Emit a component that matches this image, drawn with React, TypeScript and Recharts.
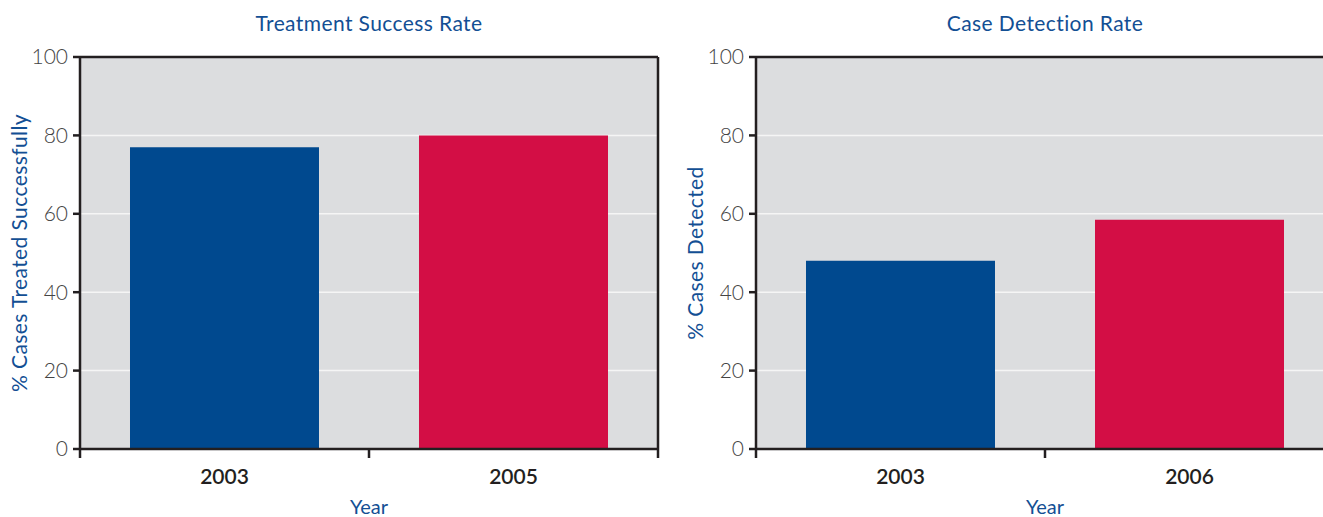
import React from "react";
import { BarChart, Bar, XAxis, YAxis, CartesianGrid, Cell, Label } from "recharts";

const successYears = ["2003", "2005"];
const successRates = [77, 80];
const detectionYears = ["2003", "2006"];
const detectionRates = [48, 58.5];
const barColors = ["#00498f", "#d30e45"];
const yTicks = [0, 20, 40, 60, 80, 100];
const bandTicks = [0, 1, 2];

const FONT = "Lato, 'Open Sans', sans-serif";
const DARK = "#231f20";
const BLUE = "#134f94";

const CHART_W = 680;
const CHART_H = 517;
const MARGIN = { top: 56, right: 21, left: 0, bottom: 0 };

function Panel({ title, yLabel, years, values, left }: {
  title: string; yLabel: string; years: string[]; values: number[]; left: number;
}) {
  const data = years.map((year, i) => ({ year, value: values[i], pos: i + 0.5 }));
  const edge = { stroke: DARK, strokeWidth: 2.5 };
  return (
    <div style={{ position: "absolute", left, top: 0, width: CHART_W, height: CHART_H }}>
      <div style={{
        position: "absolute", left: 80, top: 10, width: 578, textAlign: "center",
        fontFamily: FONT, fontSize: 21, letterSpacing: 0.4, color: BLUE,
      }}>{title}</div>
      <BarChart width={CHART_W} height={CHART_H} data={data} margin={MARGIN} barCategoryGap="17.3%">
        <CartesianGrid fill="#dcdddf" stroke="#f5f5f5" strokeWidth={1.5} vertical={false} />
        {/* band-edge ticks along the bottom */}
        <XAxis xAxisId="a" type="number" dataKey="pos" domain={[0, 2]} ticks={bandTicks} allowDataOverflow
          interval={0} height={1} tick={{ fontSize: 1, fill: "none" }} tickFormatter={() => ""}
          tickSize={9} tickLine={edge} axisLine={edge} />
        <XAxis xAxisId="b" dataKey="year" height={67} tickLine={false} axisLine={false}
          tickSize={0} tickMargin={19}
          tick={{ fontFamily: FONT, fontSize: 21, fontWeight: 600, fill: DARK }}>
          <Label value="Year" position="insideBottom" offset={3}
            style={{ fontFamily: FONT, fontSize: 20, fill: BLUE }} />
        </XAxis>
        <XAxis xAxisId="c" dataKey="year" orientation="top" height={1} tick={false} tickLine={false}
          axisLine={edge} />
        <YAxis domain={[0, 100]} ticks={yTicks} width={80} tickSize={7} tickMargin={5}
          interval={0} tickLine={edge} axisLine={edge}
          tick={{ fontFamily: FONT, fontSize: 21, fontWeight: 300, fill: "#444" }}>
          <Label value={yLabel} angle={-90} position="insideLeft" offset={20}
            style={{ textAnchor: "middle", fontFamily: FONT, fontSize: 21, letterSpacing: 0.4, fill: BLUE }} />
        </YAxis>
        <YAxis yAxisId="r" orientation="right" domain={[0, 100]} width={1} tick={false} tickLine={false}
          axisLine={edge} />
        <Bar dataKey="value" xAxisId="b" isAnimationActive={false}>
          {data.map((d, i) => <Cell key={d.year} fill={barColors[i]} />)}
        </Bar>
        <Bar dataKey="value" xAxisId="c" yAxisId="r" fill="none" isAnimationActive={false} />
        <Bar dataKey="value" xAxisId="a" fill="none" isAnimationActive={false} />
      </BarChart>
    </div>
  );
}

export default function App() {
  return (
    <div style={{
      position: "absolute", left: 0, top: 0, width: 1323, height: 517,
      overflow: "hidden", background: "#fff",
    }}>
      <Panel title="Treatment Success Rate" yLabel="% Cases  Treated Successfully"
        years={successYears} values={successRates} left={0} />
      <Panel title="Case Detection Rate" yLabel="% Cases Detected"
        years={detectionYears} values={detectionRates} left={676} />
    </div>
  );
}
